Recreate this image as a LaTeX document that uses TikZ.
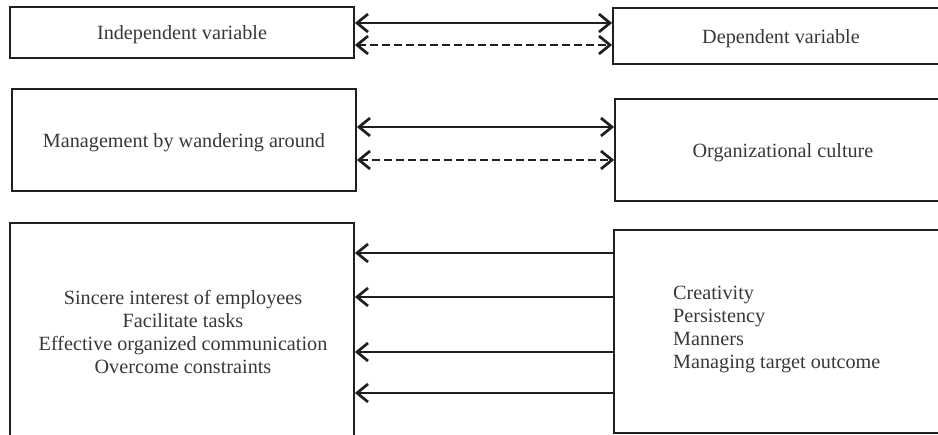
\documentclass[tikz,border=0pt]{standalone}
\usepackage{fontspec}
\setmainfont{Liberation Serif}
\usetikzlibrary{arrows.meta}

\begin{document}
\begin{tikzpicture}[x=1pt,y=1pt,
  txt/.style={text=black!78,inner sep=0pt,font=\fontsize{20.2}{23}\selectfont},
  box/.style={draw=black!88,line width=1.8pt,inner sep=0pt},
  barb/.tip={Straight Barb[length=11pt,width=18pt,line width=2.7pt]},
  lnk/.style={draw=black!88,line width=1.3pt},
  dsh/.style={lnk,dash pattern=on 8pt off 4pt}]
\useasboundingbox (0,0) rectangle (938,435);
\clip (0,0) rectangle (938,435);
% upper row
\node[box,minimum width=344pt,minimum height=51pt,label={[txt,yshift=-2.5pt]center:Independent variable}] (indep) at (182,402.5) {};
\node[box,minimum width=336pt,minimum height=56pt,label={[txt,yshift=-2.5pt]center:Dependent variable}] (dep) at (781,399) {};
\draw[lnk,barb-barb] (indep.east |- 0,412) -- (dep.west |- 0,412);
\draw[dsh,barb-barb] (indep.east |- 0,390) -- (dep.west |- 0,390);
% middle row
\node[box,minimum width=344pt,minimum height=102pt,label={[txt,yshift=-2.5pt]center:Management by wandering around}] (mbwa) at (184,295) {};
\node[box,minimum width=336pt,minimum height=102pt,label={[txt,yshift=-2.5pt]center:Organizational culture}] (culture) at (783,285) {};
\draw[lnk,barb-barb] (mbwa.east |- 0,308) -- (culture.west |- 0,308);
\draw[dsh,barb-barb] (mbwa.east |- 0,275) -- (culture.west |- 0,275);
% lower row
\node[box,minimum width=344pt,minimum height=222pt] (factors) at (182,101) {};
\node[txt,align=center] (factorstxt) at (183,103) {Sincere interest of employees\\Facilitate tasks\\Effective organized communication\\Overcome constraints};
\node[box,minimum width=336pt,minimum height=203pt] (traits) at (782,103.5) {};
\node[txt,align=left,anchor=west] (traitstxt) at (673,106) {Creativity\\Persistency\\Manners\\Managing target outcome};
\foreach \y in {182,138,83,42}
  \draw[lnk,-barb] (traits.west |- 0,\y) -- (factors.east |- 0,\y);
\end{tikzpicture}
\end{document}
